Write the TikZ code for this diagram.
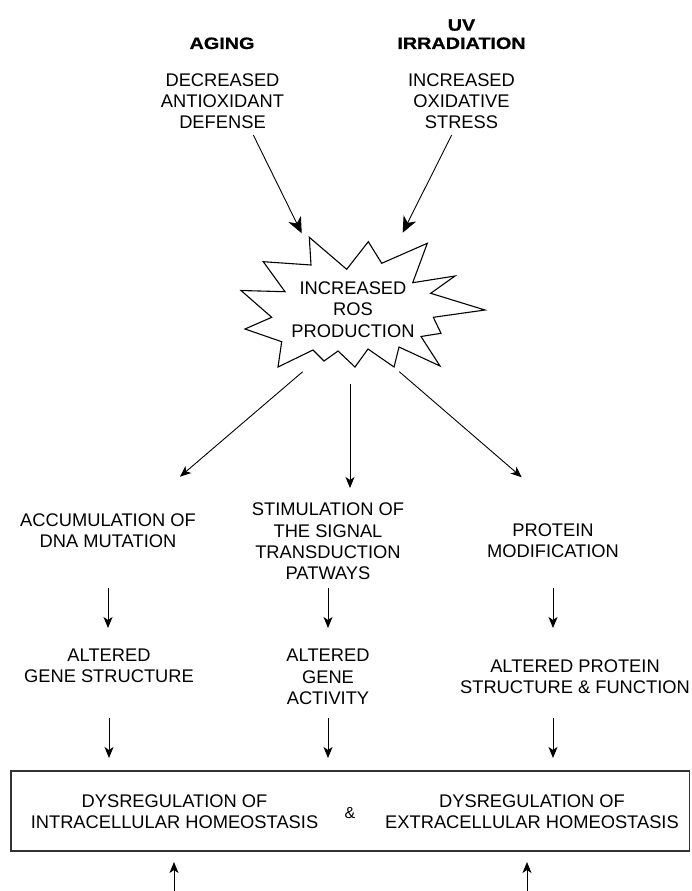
\documentclass[tikz,border=0pt]{standalone}
\usepackage{fontspec}
\setmainfont{Liberation Sans}
\newfontfamily\heavyfont[FakeStretch=1.2,FakeBold=0.8]{Liberation Sans}
\usetikzlibrary{arrows.meta}
\begin{document}
\begin{tikzpicture}[x=1pt,y=-1pt,
  lbl/.style={align=center,inner sep=0pt,font=\fontsize{18.3}{21.3}\selectfont},
  hd/.style={align=center,inner sep=0pt,font=\heavyfont\bfseries\fontsize{16.5}{18.3}\selectfont},
  bigarr/.style={-{Stealth[length=16pt,width=14pt,inset=5pt]},line width=0.9pt},
  arr/.style={-{Stealth[length=11pt,width=9pt,inset=3pt]},line width=0.9pt},
  starline/.style={line width=1.1pt,line join=miter}]
\useasboundingbox (0,0) rectangle (691,891);

% headings
\node[hd] (aging) at (222,43.3) {AGING};
\node[hd] (uv) at (461.5,34.2) {UV\\IRRADIATION};
\node[lbl] (dec) at (222.5,101) {DECREASED\\ANTIOXIDANT\\DEFENSE};
\node[lbl] (inc) at (461.5,101) {INCREASED\\OXIDATIVE\\STRESS};

% starburst
\draw[starline] (309.3,237.3) -- (346.7,269.3) -- (368.3,241.7) -- (381.7,263.3)
  -- (427.3,243.3) -- (412.7,282.7) -- (455,276) -- (430.7,293.3) -- (485,310)
  -- (433.3,317.3) -- (441,333.3) -- (421,336.5) -- (440,366) -- (399,347)
  -- (394,367) -- (368,349) -- (355,367) -- (338,351) -- (324,361) -- (313,350)
  -- (278,367) -- (281.7,341.7) -- (245,329) -- (271.7,317.3) -- (241,290.5)
  -- (285,291.7) -- (263.3,261.7) -- (311,265) -- cycle;
\node[lbl] (ros) at (353,309.5) {INCREASED\\ROS\\PRODUCTION};

% middle row
\node[lbl] (acc) at (108,530.5) {ACCUMULATION OF\\DNA MUTATION};
\node[lbl] (sti) at (328,541.5) {STIMULATION OF\\THE SIGNAL\\TRANSDUCTION\\PATWAYS};
\node[lbl] (pro) at (553,540.5) {PROTEIN\\MODIFICATION};

\node[lbl] (agS) at (109,666) {ALTERED\\GENE STRUCTURE};
\node[lbl] (agA) at (328,677) {ALTERED\\GENE\\ACTIVITY};
\node[lbl] (apS) at (575,677) {ALTERED PROTEIN\\STRUCTURE \& FUNCTION};

% box
\node[draw=black!80,line width=1.3pt,minimum width=678.5pt,minimum height=80pt,inner sep=0pt] (box) at (350.25,811) {};
\node[lbl] (din) at (174.5,812) {DYSREGULATION OF\\INTRACELLULAR HOMEOSTASIS};
\node[lbl,font=\fontsize{16}{18}\selectfont] (amp) at (350,813) {\&};
\node[lbl] (dex) at (532,812) {DYSREGULATION OF\\EXTRACELLULAR HOMEOSTASIS};

% coordinates
\coordinate (t1s) at (253.3,135);
\coordinate (t1e) at (301.7,233.3);
\coordinate (t2s) at (451.7,135);
\coordinate (t2e) at (402.7,232.7);
\coordinate (s1) at (302.7,371.7);
\coordinate (s2) at (350,384);
\coordinate (s3) at (399.3,371.7);
\coordinate (e1) at (180,476.7);
\coordinate (e2) at (350,488);
\coordinate (e3) at (521.7,477.3);
\coordinate (r1) at (0,588);
\coordinate (r2) at (0,628);
\coordinate (r3) at (0,718);
\coordinate (r4) at (0,758);
\coordinate (b1) at (174,891);
\coordinate (b2) at (527,891);
\coordinate (r5) at (0,862);

% arrows
\draw[bigarr] (t1s) -- (t1e);
\draw[bigarr] (t2s) -- (t2e);
\draw[arr] (s1) -- (e1);
\draw[arr] (s2) -- (e2);
\draw[arr] (s3) -- (e3);

\draw[arr] (acc.south |- r1) -- (acc.south |- r2);
\draw[arr] (sti.south |- r1) -- (sti.south |- r2);
\draw[arr] (pro.south |- r1) -- (pro.south |- r2);
\draw[arr] (agS.south |- r3) -- (agS.south |- r4);
\draw[arr] (agA.south |- r3) -- (agA.south |- r4);
\draw[arr] (pro.south |- r3) -- (pro.south |- r4);

\draw[arr] (b1) -- (b1 |- r5);
\draw[arr] (b2) -- (b2 |- r5);
\end{tikzpicture}
\end{document}
